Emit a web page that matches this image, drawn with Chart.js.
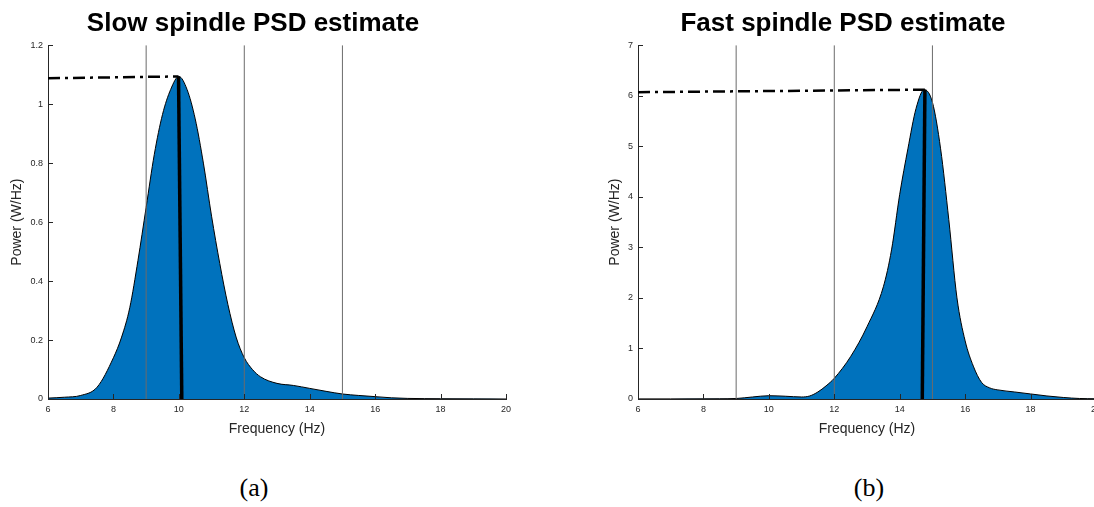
<!DOCTYPE html>
<html>
<head>
<meta charset="utf-8">
<script src="https://cdn.jsdelivr.net/npm/chart.js@4.4.1/dist/chart.umd.min.js"></script>
<style>
  html, body { margin: 0; padding: 0; background: #fff; width: 1094px; height: 507px; overflow: hidden; }
  .panel { position: absolute; top: 0; width: 550px; height: 444px; }
  .caption { position: absolute; top: 473px; font-family: "Liberation Serif", "Times New Roman", serif; font-size: 26px; color: #000; transform: translateX(-50%); }
</style>
</head>
<body>
<div class="panel" style="left:0"><canvas id="slowChart"></canvas></div>
<div class="panel" style="left:590px"><canvas id="fastChart"></canvas></div>
<div class="caption" style="left:254px">(a)</div>
<div class="caption" style="left:869px">(b)</div>

<script>
// frekuensi (Hz) dan daya (W/Hz)
var slowFreq  = [6, 6.5, 7, 7.5, 8, 8.25, 8.5, 8.75, 9, 9.25, 9.5, 9.75, 10, 10.25, 10.5, 10.75, 11, 11.25, 11.5, 11.75, 12, 12.25, 12.5, 13, 13.5, 14, 14.5, 15, 15.5, 16, 16.5, 17, 18, 19, 20];
var slowPower = [0.003, 0.006, 0.012, 0.04, 0.14, 0.21, 0.31, 0.47, 0.65, 0.83, 0.965, 1.05, 1.094, 1.05, 0.95, 0.80, 0.62, 0.46, 0.32, 0.21, 0.14, 0.10, 0.075, 0.053, 0.046, 0.036, 0.026, 0.017, 0.012, 0.008, 0.004, 0.002, 0.001, 0.0005, 0];

var fastFreq  = [6, 7, 8, 8.5, 9, 9.5, 10, 10.5, 11, 11.25, 11.5, 11.75, 12, 12.5, 13, 13.5, 13.75, 14, 14.25, 14.5, 14.75, 15, 15.25, 15.5, 15.75, 16, 16.25, 16.5, 16.75, 17, 17.5, 18, 18.5, 19, 19.5, 20];
var fastPower = [0.002, 0.002, 0.004, 0.005, 0.01, 0.04, 0.065, 0.055, 0.04, 0.06, 0.14, 0.26, 0.41, 0.84, 1.43, 2.22, 2.95, 4.05, 4.95, 5.75, 6.12, 5.87, 4.95, 3.55, 2.0, 1.15, 0.65, 0.33, 0.22, 0.18, 0.14, 0.10, 0.06, 0.03, 0.01, 0.005];

// batas pita (garis vertikal abu-abu)
var bandEdges = [9, 12, 15];

// garis puncak: titik putus-putus horizontal lalu garis tebal ke bawah
var slowPeakFreq  = [6, 9.99, 10.09];
var slowPeakPower = [1.088, 1.094, 0];
var fastPeakFreq  = [6, 14.77, 14.69];
var fastPeakPower = [6.07, 6.12, 0];

// label sumbu
var freqTicks  = [6, 8, 10, 12, 14, 16, 18, 20];
var slowYTicks = [0, 0.2, 0.4, 0.6, 0.8, 1, 1.2];
var fastYTicks = [0, 1, 2, 3, 4, 5, 6, 7];

var axisColor = '#262626';
var sansFont = '"Liberation Sans", Arial, Helvetica, sans-serif';

// tick kecil ke arah dalam seperti MATLAB
var inwardTicks = {
    id: 'inwardTicks',
    afterDraw: function(chart) {
        var c = chart.ctx;
        var xs = chart.scales.x;
        var ys = chart.scales.y;
        var area = chart.chartArea;
        c.save();
        c.strokeStyle = axisColor;
        c.lineWidth = 1;
        c.beginPath();
        xs.ticks.forEach(function(t) {
            var px = Math.round(xs.getPixelForValue(t.value)) + 0.5;
            c.moveTo(px, area.bottom);
            c.lineTo(px, area.bottom - 5);
        });
        ys.ticks.forEach(function(t) {
            var py = Math.round(ys.getPixelForValue(t.value)) + 0.5;
            c.moveTo(area.left, py);
            c.lineTo(area.left + 5, py);
        });
        c.stroke();
        c.restore();
    }
};

function toPoints(xs, ys) {
    var pts = [];
    for (var i = 0; i < xs.length; i++) {
        pts.push({ x: xs[i], y: ys[i] });
    }
    return pts;
}

function makeChart(canvasId, title, freq, power, peakFreq, peakPower, yTicks, yTitlePad) {
    var yMax = yTicks[yTicks.length - 1];
    var datasets = [];

    // garis puncak (paling atas)
    datasets.push({
        data: toPoints(peakFreq.slice(0, 2), peakPower.slice(0, 2)),
        borderColor: '#000',
        borderWidth: 2.5,
        borderDash: [12, 5, 3, 5],
        pointRadius: 0,
        fill: false,
        order: 0
    });
    datasets.push({
        data: toPoints(peakFreq.slice(1), peakPower.slice(1)),
        borderColor: '#000',
        borderWidth: 3.5,
        pointRadius: 0,
        fill: false,
        order: 0
    });

    bandEdges.forEach(function(b) {
        datasets.push({
            data: [{ x: b, y: 0 }, { x: b, y: yMax }],
            borderColor: '#6b6b6b',
            borderWidth: 1,
            pointRadius: 0,
            fill: false,
            order: 1
        });
    });

    // kurva PSD
    datasets.push({
        data: toPoints(freq, power),
        borderColor: '#000',
        borderWidth: 1,
        backgroundColor: '#0072BD',
        fill: 'origin',
        pointRadius: 0,
        cubicInterpolationMode: 'monotone',
        order: 5
    });

    return new Chart(document.getElementById(canvasId).getContext('2d'), {
        type: 'line',
        data: { datasets: datasets },
        options: {
            responsive: true,
            maintainAspectRatio: false,
            animation: false,
            layout: { padding: { left: 0, right: 44, top: 0, bottom: 0 } },
            plugins: {
                legend: { display: false },
                tooltip: { enabled: false },
                title: {
                    display: true,
                    text: title,
                    color: '#000',
                    font: { family: sansFont, size: 26, weight: 'bold' },
                    padding: { top: 8, bottom: 6 }
                }
            },
            scales: {
                x: {
                    type: 'linear',
                    min: freqTicks[0],
                    max: freqTicks[freqTicks.length - 1],
                    afterBuildTicks: function(scale) {
                        scale.ticks = freqTicks.map(function(v) { return { value: v }; });
                    },
                    afterFit: function(scale) { scale.height = 45; },
                    grid: { display: false, drawTicks: false },
                    border: { display: true, color: axisColor, width: 1 },
                    ticks: {
                        color: axisColor,
                        padding: 5,
                        maxRotation: 0,
                        font: { family: sansFont, size: 9 },
                        callback: function(v) { return String(v); }
                    },
                    title: {
                        display: true,
                        text: 'Frequency (Hz)',
                        color: axisColor,
                        font: { family: sansFont, size: 14 },
                        padding: { top: 0, bottom: 6 }
                    }
                },
                y: {
                    type: 'linear',
                    min: yTicks[0],
                    max: yMax,
                    afterBuildTicks: function(scale) {
                        scale.ticks = yTicks.map(function(v) { return { value: v }; });
                    },
                    afterFit: function(scale) { scale.width = 48; },
                    grid: { display: false, drawTicks: false },
                    border: { display: true, color: axisColor, width: 1 },
                    ticks: {
                        color: axisColor,
                        padding: 5,
                        font: { family: sansFont, size: 9 },
                        callback: function(v) { return String(v); }
                    },
                    title: {
                        display: true,
                        text: 'Power (W/Hz)',
                        color: axisColor,
                        font: { family: sansFont, size: 14 },
                        padding: { top: yTitlePad, bottom: 0 }
                    }
                }
            }
        },
        plugins: [inwardTicks]
    });
}

makeChart('slowChart', 'Slow spindle PSD estimate', slowFreq, slowPower, slowPeakFreq, slowPeakPower, slowYTicks, 9);
makeChart('fastChart', 'Fast spindle PSD estimate', fastFreq, fastPower, fastPeakFreq, fastPeakPower, fastYTicks, 17);
</script>
</body>
</html>
